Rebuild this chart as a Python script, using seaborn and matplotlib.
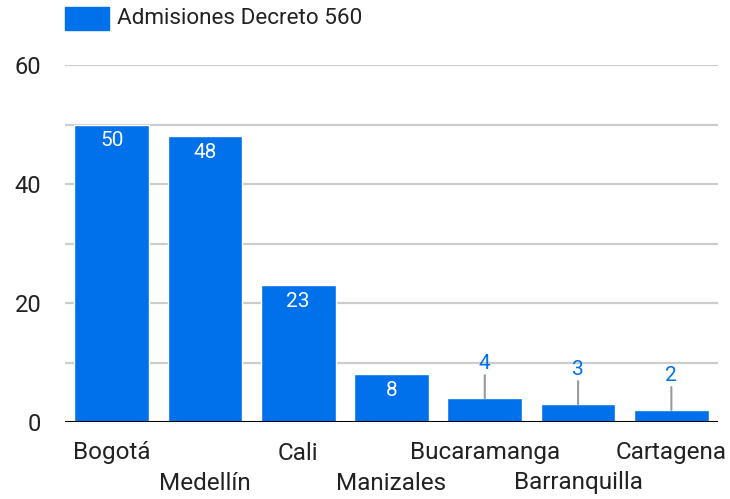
import matplotlib
matplotlib.use("Agg")
import matplotlib.pyplot as plt
from matplotlib.patches import Rectangle
import seaborn as sns
import pandas as pd

ciudades = ["Bogotá", "Medellín", "Cali", "Manizales", "Bucaramanga", "Barranquilla", "Cartagena"]
admisiones = [50, 48, 23, 8, 4, 3, 2]
serie = "Admisiones Decreto 560"
y_ticks = [0, 20, 40, 60]

BLUE = "#0070EB"
W, H = 730, 499

sns.set_theme(style="white")
plt.rcParams["font.family"] = ["Roboto", "DejaVu Sans"]

fig = plt.figure(figsize=(W / 100, H / 100), dpi=100)
ax = fig.add_axes([65 / W, (H - 422) / H, (718 - 65) / W, (422 - 65) / H])

df = pd.DataFrame({"ciudad": ciudades, "valor": admisiones})
sns.barplot(data=df, x="ciudad", y="valor", color=BLUE, saturation=1,
            width=0.8, ax=ax, zorder=3)

ax.set_xlim(-0.5, len(ciudades) - 0.5)
ax.set_ylim(0, 60)
for y in range(10, 61, 10):
    ax.axhline(y, color="#cccccc", lw=1.6, zorder=1)
ax.axhline(0, color="black", lw=2.2, zorder=5)

ax.set_yticks(y_ticks)
ax.set_yticklabels([str(t) for t in y_ticks], fontsize=17, color="#222222")
ax.tick_params(axis="y", length=0, pad=17)
ax.set_xticks([])
ax.set_xlabel("")
ax.set_ylabel("")
for s in ax.spines.values():
    s.set_visible(False)

# Category labels on two staggered rows
trans = ax.get_xaxis_transform()
for i, c in enumerate(ciudades):
    off = -31 if i % 2 == 0 else -61
    ax.annotate(c, xy=(i, 0), xycoords=trans, xytext=(0, off * 0.72),
                textcoords="offset points", ha="center", va="center",
                fontsize=17.5, color="#222222")

# Value labels: inside tall bars, above short bars with a leader line
for i, v in enumerate(admisiones):
    if v >= 8:
        ax.annotate(str(v), xy=(i, v), xytext=(0, -16 * 0.72),
                    textcoords="offset points", ha="center", va="center",
                    fontsize=15, color="white", zorder=6)
    else:
        ax.annotate("", xy=(i, v), xytext=(0, 23 * 0.72),
                    textcoords="offset points",
                    arrowprops=dict(arrowstyle="-", color="#999999", lw=1.5,
                                    shrinkA=0, shrinkB=0), zorder=6)
        ax.annotate(str(v), xy=(i, v), xytext=(0, 35 * 0.72),
                    textcoords="offset points", ha="center", va="center",
                    fontsize=15, color=BLUE, zorder=6)

# Legend
fig.add_artist(Rectangle((65 / W, (H - 30) / H), 44 / W, 23 / H,
                         transform=fig.transFigure, color=BLUE))
fig.text(117 / W, (H - 18.5) / H, serie, ha="left", va="center",
         fontsize=16.2, color="#222222")

fig.savefig("out.png", dpi=100)
